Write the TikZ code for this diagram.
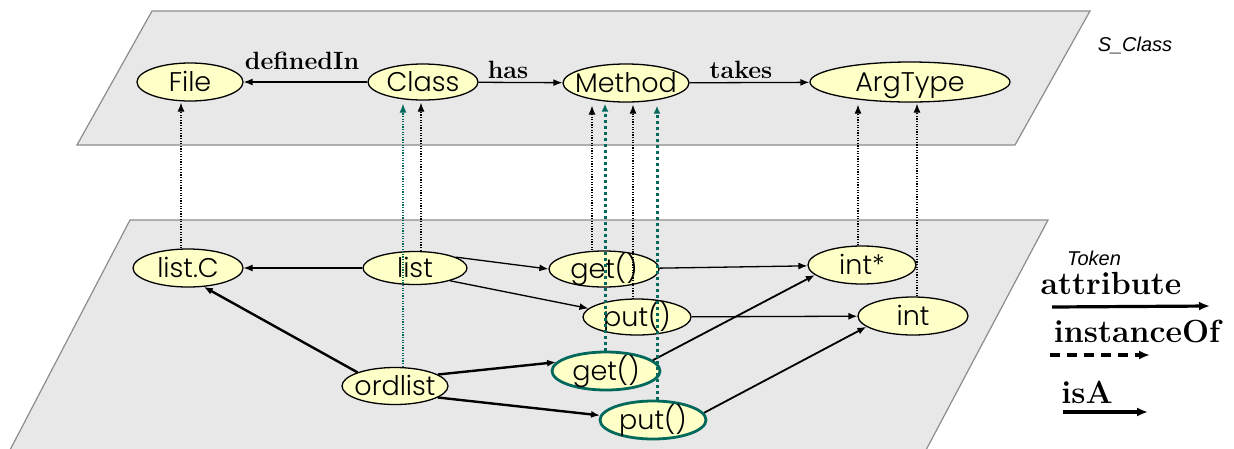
\documentclass[tikz,border=0pt]{standalone}
\usepackage{fontspec}
\newfontfamily\nodefont{Poppins Light}
\newfontfamily\tagfont{Liberation Sans}
\usetikzlibrary{arrows.meta,shapes.geometric}
\definecolor{planefill}{HTML}{E8E8E8}
\definecolor{planeline}{HTML}{8C8C8C}
\definecolor{nodefill}{HTML}{FFFFC8}
\definecolor{tealc}{HTML}{00695C}
% node text takes no width, so the ellipse size is set by the style alone
\newcommand\nt[1]{\makebox[0pt]{#1}}
\tikzset{
  plane/.style={fill=planefill, draw=planeline, line width=1.2pt},
  obj/.style={ellipse, draw, line width=1.3pt, fill=nodefill, inner sep=0pt,
    text height=19pt, text depth=0pt,
    font=\nodefont\fontsize{27}{27}\selectfont},
  inst/.style={obj, draw=tealc, line width=2.8pt},
  lab/.style={font=\bfseries\fontsize{25}{25}\selectfont, inner sep=0pt},
  key/.style={font=\bfseries\fontsize{32}{32}\selectfont, inner sep=0pt},
  tag/.style={font=\tagfont\itshape\fontsize{20}{20}\selectfont, inner sep=0pt},
  tip/.style={-{Latex[length=9pt,width=7pt]}},
  rel/.style={tip, line width=1.3pt},
  heavy/.style={tip, line width=2.4pt},
  typeof/.style={tip, line width=1.1pt, dash pattern=on 1.2pt off 1.4pt},
  typeofthin/.style={typeof, draw=tealc},
  typeofthick/.style={-{Latex[length=8pt,width=7pt]}, draw=tealc, line width=3pt,
    dash pattern=on 3pt off 3pt},
  keyarrow/.style={-{Latex[length=11pt,width=9pt]}, line width=3.2pt},
}
\begin{document}
\begin{tikzpicture}[x=1pt,y=1pt]
\useasboundingbox (0,0) rectangle (1234,-448);
% the two planes
\path[plane] (152,-11) -- (1090,-11) -- (1015,-145) -- (77,-145) -- cycle;
\begin{scope}
\clip (0,0) rectangle (1234,-448);
\path[plane] (130,-220) -- (1048,-220) -- (926,-450) -- (10,-450) -- cycle;
\end{scope}
\node[tag] (sclass) at (1135,-45) {S\_Class};
\node[tag] (token) at (1094,-258) {Token};

% schema level
\node[obj, minimum width=106pt, minimum height=38pt] (file) at (190,-82) {\nt{File}};
\node[obj, minimum width=110pt, minimum height=36pt] (class) at (423,-82) {\nt{Class}};
\node[obj, minimum width=126pt, minimum height=38pt] (method) at (626,-83) {\nt{Method}};
\node[obj, minimum width=200pt, minimum height=40pt] (argtype) at (910,-82) {\nt{ArgType}};

\draw[rel] (class) -- (file);
\draw[rel] (class) -- (method);
\draw[rel] (method) -- (argtype);
\node[lab] (lDefined) at (302,-61) {definedIn};
\node[lab] (lHas) at (508,-70) {has};
\node[lab] (lTakes) at (741,-70) {takes};

% token level
\node[obj, minimum width=110pt, minimum height=38pt] (listC) at (188,-268) {\nt{list.C}};
\node[obj, minimum width=104pt, minimum height=33pt] (list) at (415,-268) {\nt{list}};
\node[obj, minimum width=110pt, minimum height=36pt] (getA) at (604,-269) {\nt{get()}};
\node[obj, minimum width=108pt, minimum height=38pt] (intp) at (862,-265) {\nt{int*}};
\node[obj, minimum width=108pt, minimum height=36pt] (putA) at (637,-317) {\nt{put()}};
\node[obj, minimum width=110pt, minimum height=38pt] (int) at (913,-316) {\nt{int}};
\node[obj, minimum width=106pt, minimum height=37pt] (ordlist) at (395,-386) {\nt{ordlist}};
\node[inst, minimum width=108pt, minimum height=38pt] (getB) at (606,-371) {\nt{get()}};
\node[inst, minimum width=106pt, minimum height=38pt] (putB) at (653,-420) {\nt{put()}};

\draw[rel] (list) -- (listC);
\draw[rel] (list.15) -- (getA.west);
\draw[rel] (list.340) -- (putA.170);
\draw[rel] (getA) -- (intp);
\draw[rel] (putA) -- (int);
\draw[heavy] (ordlist.160) -- (listC.310);
\draw[heavy] (ordlist.15) -- (getB.170);
\draw[heavy] (ordlist.345) -- (putB.175);
\draw[rel, line width=1.8pt] (getB.13) -- (intp.192);
\draw[rel, line width=1.8pt] (putB.8) -- (int.193);

% instance-of links between the levels
\draw[typeof] ([xshift=-7pt]listC.north) -- ([xshift=-7pt,yshift=-1pt]listC.north |- file.south);
\draw[typeof] ([xshift=6pt]list.north) -- ([xshift=6pt,yshift=-2pt]list.north |- class.south);
\draw[typeofthin] ([xshift=-12pt]list.north |- ordlist.north) -- ([xshift=-12pt,yshift=-3pt]list.north |- class.south);
\draw[typeof] ([xshift=-12pt]getA.north) -- ([xshift=-12pt,yshift=-3pt]getA.north |- method.south);
\draw[typeof] ([xshift=-4pt,yshift=-1pt]putA.north) -- ([xshift=-4pt,yshift=-2pt]putA.north |- method.south);
\draw[typeofthick] ([xshift=-1pt]getB.north) -- ([xshift=-1pt,yshift=-1pt]getB.north |- method.south);
\draw[typeofthick] ([xshift=4pt]putB.north) -- ([xshift=4pt,yshift=-3pt]putB.north |- method.south);
\draw[typeof] ([xshift=-4pt]intp.north) -- ([xshift=-4pt,yshift=-2pt]intp.north |- argtype.south);
\draw[typeof] ([xshift=4pt]int.north) -- ([xshift=4pt,yshift=-1pt]int.north |- argtype.south);

% legend
\node[key] (kAttr) at (1111,-283) {attribute};
\node[key] (kInst) at (1137,-331) {instanceOf};
\node[key] (kIsa) at (1087,-392) {isA};
\coordinate (a0) at (1052,-307);
\coordinate (a1) at (1210,-306);
\coordinate (b0) at (1050,-355);
\coordinate (b1) at (1150,-355);
\coordinate (c0) at (1063,-412);
\coordinate (c1) at (1148,-412);
\draw[keyarrow] (a0) -- (a1);
\draw[keyarrow, dash pattern=on 10pt off 7pt] (b0) -- (b1);
\draw[keyarrow] (c0) -- (c1);
\end{tikzpicture}
\end{document}
